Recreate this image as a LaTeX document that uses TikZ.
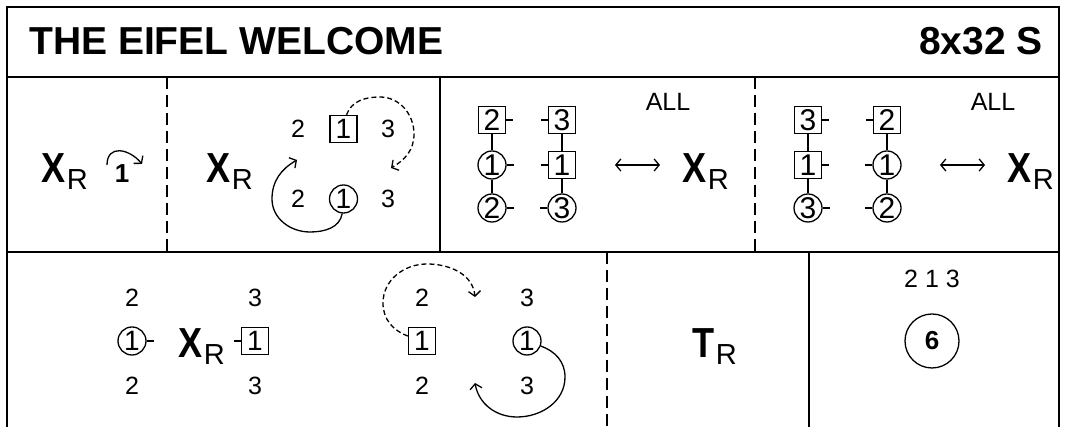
\documentclass[tikz,border=0pt]{standalone}
\usepackage{fontspec}
\setmainfont{Liberation Sans}
\usetikzlibrary{arrows.meta}
\newcommand{\dancer}[2]{\scalebox{0.86}[1]{\fontsize{42}{42}\selectfont\bfseries #1}\hspace{1.5pt}\raisebox{-7pt}{\fontsize{29}{29}\selectfont #2}}

\begin{document}
\begin{tikzpicture}
        [x=1pt, y=1pt,
        frame/.style={line width=1.8pt},
        cut/.style={line width=1.8pt, dash pattern=on 12pt off 6pt},
        num/.style={inner sep=0pt, font=\fontsize{25}{25}\selectfont},
        word/.style={inner sep=0pt, font=\fontsize{25}{25}\selectfont},
        box/.style={draw, line width=1.3pt, minimum size=27pt, inner sep=0pt, font=\fontsize{28}{28}\selectfont},
        ring/.style={draw, circle, line width=1.3pt, minimum size=28pt, inner sep=0pt, font=\fontsize{28}{28}\selectfont},
        tall/.style={font=\fontsize{30}{30}\selectfont},
        link/.style={line width=2.4pt},
        hand/.style={line width=1.3pt},
        turn/.style={line width=1.3pt, -{Straight Barb[length=5pt,width=12pt]}},
        cast/.style={turn, dash pattern=on 5pt off 3pt},
        swap/.style={line width=1.3pt, {Straight Barb[length=5pt,width=12pt]}-{Straight Barb[length=5pt,width=12pt]}}]

        \useasboundingbox (0,0) rectangle (1066,427);

        % frame and grid
        \draw[frame] (7,0) -- (7,420) -- (1059,420) -- (1059,0);
        \draw[frame] (7,350) -- (1059,350);
        \draw[frame] (7,175) -- (1059,175);
        \draw[cut] (167,350) -- (167,175);
        \draw[frame] (440,350) -- (440,175);
        \draw[cut] (755,350) -- (755,175);
        \draw[cut] (607,175) -- (607,0);
        \draw[frame] (809,175) -- (809,0);

        % title
        \node[anchor=base west, inner sep=0pt, font=\fontsize{39}{39}\selectfont\bfseries] (title) at (29,372) {THE EIFEL WELCOME};
        \node[anchor=base east, inner sep=0pt, font=\fontsize{39}{39}\selectfont\bfseries] (form) at (1043,372) {8x32 S};

        % bar 1: set and turn
        \node[anchor=base west, inner sep=0pt] (xr1) at (41,244) {\dancer{X}{R}};
        \node[inner sep=0pt, font=\fontsize{26}{26}\selectfont\bfseries] (one) at (122,253) {1};
        \coordinate (t1a) at (107,262);
        \coordinate (t1b) at (142,263);
        \draw[turn] (t1a) to[out=90, in=130, looseness=1.5] (t1b);

        % bar 2: cross over
        \node[anchor=base west, inner sep=0pt] (xr2) at (206,244) {\dancer{X}{R}};
        \node[num] (n2a) at (298,298) {2};
        \node[box] (s2) at (343.5,298) {1};
        \node[num] (n2b) at (388,298) {3};
        \node[num] (n2c) at (298,228) {2};
        \node[ring] (c2) at (343.5,228) {1};
        \node[num] (n2d) at (388,228) {3};
        \coordinate (d2e) at (391,259);
        \coordinate (s2e) at (297,267);
        \draw[cast] ([xshift=3pt]s2.north) to[out=70, in=180] (380,330) to[out=0, in=90] (414,293) to[out=270, in=30] (d2e);
        \draw[turn] (c2.-95) to[out=-100, in=0] (310,195) to[out=180, in=270] (272,228) to[out=90, in=210] (s2e);

        % bar 3: lines of three
        \node[box, tall] (p3a1) at (492,307) {2};
        \node[ring, tall] (p3a2) at (492,262) {1};
        \node[ring, tall] (p3a3) at (492,219) {2};
        \node[box, tall] (p3b1) at (562,307) {3};
        \node[box, tall] (p3b2) at (562,262) {1};
        \node[ring, tall] (p3b3) at (562,219) {3};
        \draw[link] (p3a1) -- (p3a2) -- (p3a3);
        \draw[link] (p3b1) -- (p3b2) -- (p3b3);
        \draw[hand] (p3a1.east) -- ++(7,0);
        \draw[hand] (p3a2.east) -- ++(7,0);
        \draw[hand] (p3a3.east) -- ++(7,0);
        \draw[hand] (p3b1.west) -- ++(-7,0);
        \draw[hand] (p3b2.west) -- ++(-7,0);
        \draw[hand] (p3b3.west) -- ++(-7,0);
        \node[word] (all3) at (668,325) {ALL};
        \coordinate (w3a) at (615,262);
        \coordinate (w3b) at (660,262);
        \draw[swap] (w3a) -- (w3b);
        \node[anchor=base west, inner sep=0pt] (xr3) at (682,244.5) {\dancer{X}{R}};

        % bar 4: lines of three again
        \node[box, tall] (p4a1) at (808,307) {3};
        \node[box, tall] (p4a2) at (808,262) {1};
        \node[ring, tall] (p4a3) at (808,219) {3};
        \node[box, tall] (p4b1) at (887,307) {2};
        \node[ring, tall] (p4b2) at (887,262) {1};
        \node[ring, tall] (p4b3) at (887,219) {2};
        \draw[link] (p4a1) -- (p4a2) -- (p4a3);
        \draw[link] (p4b1) -- (p4b2) -- (p4b3);
        \draw[hand] (p4a1.east) -- ++(7,0);
        \draw[hand] (p4a2.east) -- ++(7,0);
        \draw[hand] (p4a3.east) -- ++(7,0);
        \draw[hand] (p4b1.west) -- ++(-7,0);
        \draw[hand] (p4b2.west) -- ++(-7,0);
        \draw[hand] (p4b3.west) -- ++(-7,0);
        \node[word] (all4) at (993,325) {ALL};
        \coordinate (w4a) at (940,262);
        \coordinate (w4b) at (985,262);
        \draw[swap] (w4a) -- (w4b);
        \node[anchor=base west, inner sep=0pt] (xr4) at (1007,244.5) {\dancer{X}{R}};

        % bars 5-6: set and cross back
        \node[num] (n5a) at (132,129) {2};
        \node[num] (n5b) at (255,129) {3};
        \node[ring] (c5) at (132,86) {1};
        \node[box] (s5) at (255,86) {1};
        \node[num] (n5c) at (132,41) {2};
        \node[num] (n5d) at (255,41) {3};
        \draw[hand] (c5.east) -- ++(7,0);
        \draw[hand] (s5.west) -- ++(-7,0);
        \node[anchor=base west, inner sep=0pt] (xr5) at (178,69) {\dancer{X}{R}};

        \node[num] (n6a) at (422,129) {2};
        \node[num] (n6b) at (527,129) {3};
        \node[box] (s6) at (422,86) {1};
        \node[ring] (c6) at (527,86) {1};
        \node[num] (n6c) at (422,41) {2};
        \node[num] (n6d) at (527,41) {3};
        \coordinate (d6e) at (475,130);
        \coordinate (s6e) at (475,44);
        \draw[cast] ([yshift=5pt]s6.west) to[out=160, in=270] (383,124) to[out=90, in=180] (427,163) to[out=0, in=95] (d6e);
        \draw[turn] (c6.-20) to[out=-20, in=90] (565,50) to[out=270, in=0] (517,10) to[out=180, in=280] (s6e);

        % bars 7-8: turn
        \node[anchor=base west, inner sep=0pt] (tr) at (692,69) {\dancer{T}{R}};

        % order and set number
        \node[word] (order) at (932,148) {2 1 3};
        \node[draw, circle, line width=1.3pt, minimum size=54pt, inner sep=0pt, font=\fontsize{26}{26}\selectfont\bfseries] (six) at (932,86) {6};

    \end{tikzpicture}
\end{document}
